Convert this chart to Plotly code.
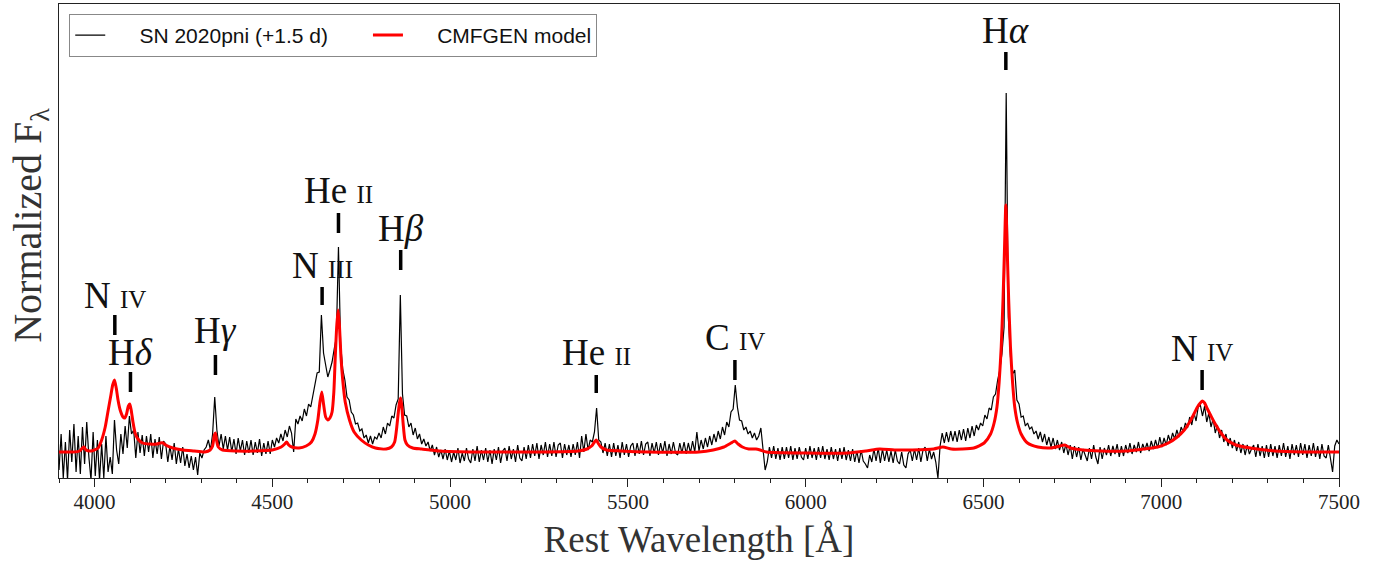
import numpy as np
import plotly.graph_objects as go

# ---------------------------------------------------------------
# Observed spectrum (normalized flux), sampled every 6 A from 3900 to 7500
# ---------------------------------------------------------------
wave_start, wave_end, wave_step = 3900, 7500, 6

flux_obs = [
    0.82, 1.18, 0.74, 1.10, 0.72, 1.22, 0.90, 1.28, 0.80, 1.16,   # 3900
    0.78, 1.25, 0.88, 1.30, 0.95, 0.72, 1.20, 0.76, 1.12, 0.72,   # 3960
    1.08, 0.74, 1.16, 0.80, 0.95, 0.78, 1.32, 1.02, 0.88, 1.18,   # 4020
    0.98, 1.26, 1.04, 1.36, 1.18, 1.22, 0.94, 1.20, 0.99, 1.17,   # 4080
    0.96, 1.16, 1.00, 1.18, 0.94, 1.13, 0.98, 1.15, 0.93, 1.11,   # 4140
    1.08, 0.90, 1.06, 0.92, 1.09, 0.88, 1.03, 0.89, 1.05, 0.86,   # 4200
    0.98, 0.84, 0.96, 0.82, 0.95, 0.77, 0.99, 0.94, 1.02, 1.05,   # 4260
    1.12, 1.02, 1.18, 1.55, 1.22, 1.06, 1.18, 1.03, 1.16, 1.02,   # 4320
    1.15, 1.00, 1.13, 0.98, 1.14, 1.01, 1.12, 0.97, 1.11, 0.99,   # 4380
    1.12, 0.97, 1.10, 0.99, 1.13, 0.96, 1.09, 0.98, 1.11, 0.98,   # 4440
    1.12, 1.05, 1.14, 1.09, 1.18, 1.11, 1.22, 1.15, 1.26, 1.19,   # 4500
    1.00, 1.33, 1.28, 1.36, 1.31, 1.43, 1.36, 1.48, 1.45, 1.57,   # 4560
    1.66, 1.79, 1.80, 2.37, 1.99, 1.88, 1.75, 1.82, 1.90, 2.03,   # 4620
    2.15, 3.05, 2.08, 1.83, 1.72, 1.55, 1.52, 1.40, 1.37, 1.28,   # 4680
    1.29, 1.21, 1.23, 1.14, 1.17, 1.09, 1.16, 1.08, 1.15, 1.13,   # 4740
    1.19, 1.14, 1.25, 1.18, 1.29, 1.26, 1.36, 1.34, 1.47, 1.53,   # 4800
    2.57, 1.58, 1.37, 1.36, 1.25, 1.29, 1.17, 1.24, 1.13, 1.18,   # 4860
    1.08, 1.13, 1.06, 1.10, 1.01, 1.07, 0.97, 1.05, 0.95, 1.02,   # 4920
    0.93, 1.03, 0.92, 1.01, 0.90, 1.00, 0.92, 1.04, 0.89, 0.99,   # 4980
    0.91, 1.04, 0.93, 0.89, 1.03, 0.91, 1.06, 0.90, 1.02, 0.92,   # 5040
    1.04, 0.90, 1.02, 0.88, 1.03, 0.92, 1.05, 0.89, 1.01, 1.04,   # 5100
    0.91, 1.06, 0.93, 1.03, 0.90, 1.07, 0.94, 0.91, 1.05, 0.93,   # 5160
    1.07, 0.94, 1.08, 0.96, 1.09, 0.93, 1.07, 0.97, 1.10, 0.95,   # 5220
    1.08, 0.96, 1.10, 0.95, 1.07, 1.09, 0.94, 1.08, 0.97, 1.07,   # 5280
    0.95, 1.08, 0.97, 1.10, 0.94, 1.16, 1.00, 1.18, 1.02, 1.12,   # 5340
    1.10, 1.20, 1.44, 1.12, 1.10, 0.99, 1.09, 0.96, 1.08, 0.95,   # 5400
    1.09, 0.96, 1.07, 0.94, 1.10, 0.97, 1.08, 0.95, 1.06, 1.09,   # 5460
    0.96, 1.09, 0.98, 1.11, 0.97, 1.08, 1.10, 0.96, 1.09, 0.99,   # 5520
    1.10, 0.97, 1.09, 0.99, 1.11, 0.96, 1.08, 0.98, 1.10, 0.99,   # 5580
    0.97, 1.09, 0.99, 1.10, 0.98, 1.09, 0.99, 1.11, 1.00, 1.20,   # 5640
    1.01, 1.12, 1.03, 1.14, 1.05, 1.16, 1.07, 1.18, 1.10, 1.21,   # 5700
    1.13, 1.25, 1.17, 1.30, 1.25, 1.40, 1.43, 1.67, 1.45, 1.32,   # 5760
    1.31, 1.22, 1.25, 1.18, 1.21, 1.14, 1.19, 1.12, 1.16, 1.24,   # 5820
    1.06, 0.82, 0.90, 1.05, 0.94, 1.06, 0.93, 1.04, 0.92, 1.05,   # 5880
    0.93, 1.05, 0.94, 1.06, 0.92, 1.04, 0.93, 1.05, 0.95, 0.92,   # 5940
    1.04, 0.93, 1.06, 0.94, 1.04, 0.92, 1.05, 0.94, 1.06, 0.93,   # 6000
    1.03, 0.92, 1.05, 0.93, 1.03, 0.91, 1.04, 0.93, 1.05, 0.92,   # 6060
    1.02, 0.91, 1.03, 0.90, 1.01, 0.89, 1.02, 0.91, 0.88, 0.84,   # 6120
    0.97, 0.90, 1.03, 0.91, 1.04, 0.89, 1.03, 0.91, 1.02, 0.90,   # 6180
    1.01, 0.89, 1.02, 0.91, 0.88, 1.00, 0.87, 0.84, 0.98, 1.02,   # 6240
    0.91, 1.03, 0.92, 1.04, 0.90, 1.02, 1.05, 0.91, 1.03, 0.93,   # 6300
    1.00, 0.90, 0.74, 1.06, 1.19, 1.09, 1.20, 1.10, 1.21, 1.11,   # 6360
    1.21, 1.10, 1.22, 1.12, 1.23, 1.11, 1.24, 1.14, 1.26, 1.16,   # 6420
    1.27, 1.22, 1.29, 1.26, 1.37, 1.33, 1.44, 1.42, 1.55, 1.58,   # 6480
    1.72, 1.82, 1.98, 2.25, 4.59, 2.35, 1.95, 1.78, 1.82, 1.52,   # 6540
    1.48, 1.35, 1.36, 1.26, 1.29, 1.23, 1.25, 1.18, 1.21, 1.13,   # 6600
    1.20, 1.10, 1.18, 1.07, 1.15, 1.05, 1.14, 1.03, 1.12, 1.02,   # 6660
    1.10, 0.99, 1.08, 0.97, 1.07, 0.93, 1.06, 0.95, 1.05, 0.92,   # 6720
    1.03, 0.96, 0.91, 1.04, 0.93, 1.07, 0.95, 0.88, 1.05, 0.93,   # 6780
    1.04, 0.97, 1.07, 0.96, 1.06, 0.98, 1.08, 0.95, 1.06, 0.96,   # 6840
    1.07, 0.99, 1.09, 0.98, 1.07, 1.00, 1.10, 0.99, 1.08, 1.02,   # 6900
    1.09, 1.01, 1.11, 1.03, 1.12, 1.04, 1.15, 1.05, 1.14, 1.07,   # 6960
    1.17, 1.10, 1.19, 1.13, 1.22, 1.15, 1.25, 1.20, 1.29, 1.24,   # 7020
    1.35, 1.27, 1.39, 1.31, 1.45, 1.47, 1.36, 1.46, 1.30, 1.39,   # 7080
    1.25, 1.33, 1.19, 1.27, 1.14, 1.22, 1.10, 1.18, 1.06, 1.14,   # 7140
    1.04, 1.12, 1.01, 1.10, 0.99, 1.08, 0.97, 1.07, 0.98, 1.03,   # 7200
    1.07, 0.95, 1.08, 0.96, 1.06, 0.94, 1.07, 0.95, 1.08, 0.96,   # 7260
    1.06, 0.94, 1.07, 0.96, 1.09, 0.95, 1.06, 0.93, 1.08, 0.97,   # 7320
    1.07, 0.95, 1.09, 0.97, 1.08, 0.94, 1.07, 0.96, 1.09, 0.95,   # 7380
    1.06, 0.93, 1.08, 0.96, 0.94, 1.07, 0.95, 0.80, 1.06, 1.12,   # 7440
    1.08,                                                         # 7500
]
wave_obs = np.arange(wave_start, wave_end + 1, wave_step)

# ---------------------------------------------------------------
# CMFGEN model
# ---------------------------------------------------------------
model_wave = [
    3900, 3940, 3958, 3966, 3970, 3976, 3990, 4010, 4020, 4030, 4037, 4045,
    4051, 4056, 4061, 4066, 4072, 4080, 4085, 4090, 4095, 4099, 4103, 4108,
    4114, 4122, 4135, 4155, 4175, 4185, 4193, 4200, 4220, 4250, 4280, 4310,
    4325, 4332, 4337, 4340, 4343, 4348, 4360, 4400, 4450, 4500, 4525, 4535,
    4540, 4546, 4555, 4575, 4595, 4610, 4620, 4628, 4634, 4639, 4644, 4650,
    4656, 4662, 4668, 4673, 4677, 4681, 4685, 4689, 4693, 4698, 4705, 4717,
    4730, 4750, 4770, 4790, 4820, 4835, 4844, 4850, 4855, 4858, 4861, 4864,
    4868, 4873, 4880, 4895, 4920, 4970, 5080, 5250, 5360, 5385, 5398, 5406,
    5411, 5416, 5424, 5440, 5480, 5560, 5700, 5740, 5770, 5790, 5801, 5810,
    5822, 5840, 5860, 5872, 5890, 6000, 6120, 6170, 6208, 6250, 6300, 6360,
    6386, 6410, 6440, 6473, 6502, 6520, 6530, 6538, 6544, 6550, 6555, 6559,
    6563, 6567, 6571, 6576, 6582, 6588, 6596, 6606, 6624, 6653, 6690, 6715,
    6728, 6745, 6780, 6830, 6900, 6950, 6990, 7020, 7045, 7065, 7080, 7092,
    7102, 7110, 7116, 7122, 7130, 7140, 7152, 7168, 7185, 7210, 7250, 7320,
    7400, 7500,
]
model_flux = [
    1.00, 1.00, 1.01, 1.04, 1.05, 1.02, 1.01, 1.04, 1.12, 1.25, 1.39, 1.55,
    1.67, 1.72, 1.64, 1.52, 1.42, 1.35, 1.34, 1.38, 1.46, 1.48, 1.42, 1.30,
    1.19, 1.13, 1.09, 1.08, 1.08, 1.09, 1.09, 1.07, 1.04, 1.02, 1.01, 1.00,
    1.02, 1.06, 1.17, 1.19, 1.12, 1.05, 1.02, 1.01, 1.01, 1.02, 1.05, 1.08,
    1.10, 1.07, 1.05, 1.04, 1.06, 1.10, 1.18, 1.32, 1.50, 1.60, 1.48, 1.35,
    1.32, 1.34, 1.40, 1.60, 1.95, 2.25, 2.42, 2.25, 1.95, 1.72, 1.50, 1.32,
    1.20, 1.12, 1.07, 1.04, 1.03, 1.05, 1.10, 1.25, 1.42, 1.50, 1.54, 1.46,
    1.28, 1.12, 1.07, 1.04, 1.03, 1.01, 1.00, 1.00, 1.01, 1.03, 1.06, 1.10,
    1.12, 1.09, 1.05, 1.02, 1.01, 1.00, 1.00, 1.02, 1.05, 1.09, 1.11, 1.08,
    1.05, 1.03, 1.03, 1.02, 1.00, 0.99, 0.99, 1.01, 1.03, 1.02, 1.02, 1.03,
    1.05, 1.03, 1.03, 1.04, 1.09, 1.18, 1.29, 1.45, 1.69, 2.05, 2.52, 3.00,
    3.47, 3.00, 2.52, 2.05, 1.69, 1.45, 1.29, 1.18, 1.09, 1.05, 1.04, 1.06,
    1.07, 1.04, 1.02, 1.01, 1.01, 1.03, 1.05, 1.09, 1.15, 1.22, 1.30, 1.38,
    1.45, 1.49, 1.51, 1.49, 1.43, 1.36, 1.28, 1.19, 1.12, 1.07, 1.04, 1.01,
    1.00, 1.00,
]

# line identifications: label, wavelength, tick bottom, tick top, label centre
line_names = ["N <span style='font-size:25px'>IV</span>",
              "H<i>δ</i>",
              "H<i>γ</i>",
              "N <span style='font-size:25px'>III</span>",
              "He <span style='font-size:25px'>II</span>",
              "H<i>β</i>",
              "He <span style='font-size:25px'>II</span>",
              "C <span style='font-size:25px'>IV</span>",
              "H<i>α</i>",
              "N <span style='font-size:25px'>IV</span>"]
line_wave = [4057, 4101, 4340, 4640, 4686, 4861, 5411, 5801, 6563, 7115]
tick_lo = [2.17, 1.60, 1.77, 2.47, 3.19, 2.82, 1.59, 1.72, 4.82, 1.62]
tick_hi = [2.37, 1.80, 1.97, 2.65, 3.39, 3.02, 1.77, 1.92, 5.00, 1.82]
label_y = [2.57, 2.00, 2.22, 2.87, 3.62, 3.24, 2.00, 2.15, 5.22, 2.04]

fig = go.Figure()

# extra non-breaking spaces only widen the legend entries
fig.add_trace(go.Scatter(
    x=wave_obs, y=flux_obs, mode='lines',
    line=dict(color='black', width=1.2),
    name='&nbsp;' * 5 + 'SN 2020pni (+1.5 d)' + '&nbsp;' * 6
))
fig.add_trace(go.Scatter(
    x=model_wave, y=model_flux, mode='lines',
    line=dict(color='#ff0000', width=3, shape='spline', smoothing=0.6),
    name='&nbsp;' * 5 + 'CMFGEN model'
))

for name, w, lo, hi, ly in zip(line_names, line_wave, tick_lo, tick_hi, label_y):
    fig.add_shape(type='line', x0=w, x1=w, y0=lo, y1=hi,
                  line=dict(color='black', width=3.5))
    fig.add_annotation(x=w, y=ly, text=name, showarrow=False,
                       xanchor='center', yanchor='middle',
                       font=dict(family='Liberation Serif', size=37, color='#111'))

# y axis label (placed by hand so it sits like the original)
fig.add_annotation(x=-0.0227, y=0.534, xref='paper', yref='paper',
                   text='Normalized F<sub>λ</sub>', textangle=-90, showarrow=False,
                   xanchor='center', yanchor='middle',
                   font=dict(family='Liberation Serif', size=40, color='#333'))

fig.update_layout(
    width=1380, height=563,
    margin=dict(l=59, r=41, t=4, b=85),
    plot_bgcolor='white', paper_bgcolor='white',
    font=dict(family='Liberation Serif', color='#222'),
    legend=dict(
        orientation='h', x=0.008, y=0.979, xanchor='left', yanchor='top',
        bgcolor='white', bordercolor='#888', borderwidth=1,
        font=dict(family='Liberation Sans', size=21, color='#111'),
    ),
    xaxis=dict(
        range=[3900, 7500], tick0=4000, dtick=500,
        ticks='outside', ticklen=8, tickcolor='#222', ticklabelstandoff=-3,
        minor=dict(dtick=100, ticks='outside', ticklen=4, tickcolor='#222'),
        showgrid=False, zeroline=False,
        showline=True, linecolor='#222', linewidth=1.3, mirror=True,
        tickfont=dict(family='Liberation Serif', size=21, color='#222'),
        title=dict(text='Rest Wavelength [Å]', standoff=12,
                   font=dict(family='Liberation Serif', size=37, color='#333')),
    ),
    yaxis=dict(
        range=[0.74, 5.48], showticklabels=False, ticks='',
        showgrid=False, zeroline=False,
        showline=True, linecolor='#222', linewidth=1.3, mirror=True,
    ),
)

fig.write_html("out.html", config={'displayModeBar': False},
               post_script="document.body.style.margin='0';")
